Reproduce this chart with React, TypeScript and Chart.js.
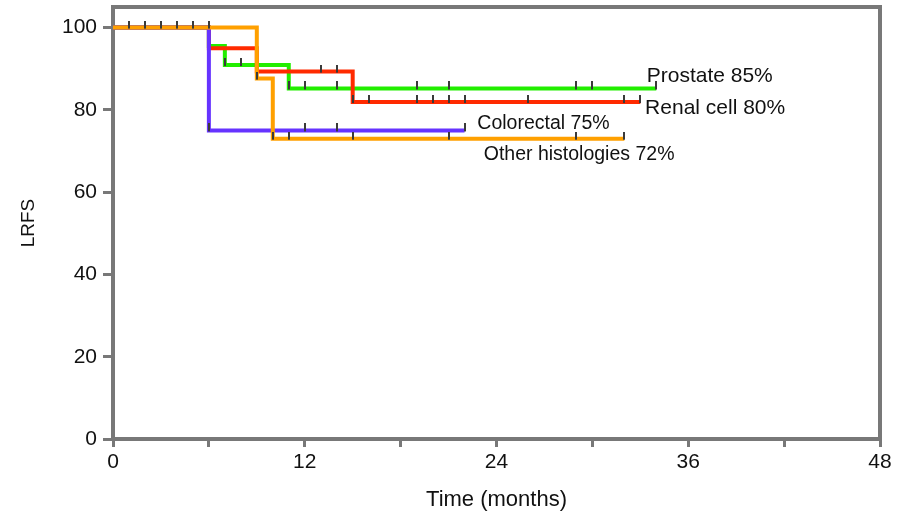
import React, { useEffect, useRef } from 'react';
import { Chart, registerables } from 'chart.js';

Chart.register(...registerables);

// ---- data ----
const seriesLabels = ['Prostate 85%', 'Renal cell 80%', 'Colorectal 75%', 'Other histologies 72%'];

const prostateTimes = [0, 6, 7, 11, 34];
const prostateSurv = [100, 95.5, 90.9, 85.2, 85.2];
const prostateCensored = [7, 8, 11, 12, 14, 19, 21, 29, 30, 34];

const renalTimes = [0, 6, 9, 15, 33];
const renalSurv = [100, 95, 89.3, 81.9, 81.9];
const renalCensored = [13, 14, 15, 16, 19, 20, 21, 22, 26, 32, 33];

const colorectalTimes = [0, 6, 22];
const colorectalSurv = [100, 75, 75];
const colorectalCensored = [6, 12, 14, 22];

const otherTimes = [0, 9, 10, 32];
const otherSurv = [100, 87.6, 73, 73];
const otherCensored = [1, 2, 3, 4, 5, 6, 9, 10, 11, 15, 21, 29, 32];

const xTickLabels = [0, 12, 24, 36, 48];
const yTickValues = [0, 20, 40, 60, 80, 100];

// ---- annotation placement & styles (not data) ----
const labelAnchorX = [33.4, 33.3, 22.8, 23.2];
const labelAnchorY = [88.3, 80.4, 76.7, 69.0];
const labelFontSizes = [21, 21, 19.5, 19.5];
const seriesColors = ['#22ee00', '#ff2a00', '#6633ff', '#ffa000'];
const FONT = "'Liberation Sans', Arial, sans-serif";

function stepPoints(times: number[], surv: number[]) {
  return times.map((t, i) => ({ x: t, y: surv[i] }));
}
function survAt(times: number[], surv: number[], t: number) {
  let v = surv[0];
  for (let i = 0; i < times.length; i++) if (times[i] <= t) v = surv[i];
  return v;
}
function censorPoints(times: number[], surv: number[], cens: number[]) {
  return cens.map((t) => ({ x: t, y: survAt(times, surv, t) }));
}

export default function App() {
  const ref = useRef<HTMLCanvasElement | null>(null);

  useEffect(() => {
    document.body.style.margin = '0';
    const canvas = ref.current;
    if (!canvas) return;

    const mark = document.createElement('canvas');
    mark.width = 2;
    mark.height = 14;
    const mc = mark.getContext('2d');
    if (mc) {
      mc.fillStyle = '#3a3a3a';
      mc.fillRect(0, 0, 2, 8);
    }

    const series = [
      { t: prostateTimes, s: prostateSurv, c: prostateCensored, order: 4 },
      { t: renalTimes, s: renalSurv, c: renalCensored, order: 3 },
      { t: colorectalTimes, s: colorectalSurv, c: colorectalCensored, order: 2 },
      { t: otherTimes, s: otherSurv, c: otherCensored, order: 1 },
    ];

    const datasets: any[] = [];
    series.forEach((sr, i) => {
      datasets.push({
        label: seriesLabels[i],
        data: stepPoints(sr.t, sr.s),
        borderColor: seriesColors[i],
        backgroundColor: seriesColors[i],
        borderWidth: 4,
        stepped: true,
        pointRadius: 0,
        fill: false,
        borderCapStyle: 'butt',
        borderJoinStyle: 'miter',
        order: sr.order,
      });
    });
    series.forEach((sr, i) => {
      datasets.push({
        label: seriesLabels[i] + ' censored',
        data: censorPoints(sr.t, sr.s, sr.c),
        showLine: false,
        pointStyle: mark,
        pointRadius: 7,
        pointBorderWidth: 0,
        borderColor: '#3a3a3a',
        backgroundColor: '#3a3a3a',
        order: 0,
      });
    });

    const framePlugin = {
      id: 'frame',
      beforeDatasetsDraw(chart: any) {
        const { ctx, chartArea } = chart;
        ctx.save();
        ctx.strokeStyle = '#787878';
        ctx.lineWidth = 4;
        ctx.strokeRect(chartArea.left, chartArea.top, chartArea.right - chartArea.left, chartArea.bottom - chartArea.top);
        ctx.restore();
      },
    };

    const labelPlugin = {
      id: 'curveLabels',
      afterDatasetsDraw(chart: any) {
        const { ctx, scales } = chart;
        ctx.save();
        ctx.fillStyle = '#111';
        ctx.textAlign = 'left';
        ctx.textBaseline = 'middle';
        seriesLabels.forEach((txt, i) => {
          ctx.font = `${labelFontSizes[i]}px ${FONT}`;
          ctx.fillText(txt, scales.x.getPixelForValue(labelAnchorX[i]), scales.y.getPixelForValue(labelAnchorY[i]));
        });
        ctx.restore();
      },
    };

    const chart = new Chart(canvas, {
      type: 'line',
      data: { datasets },
      options: {
        animation: false,
        responsive: false,
        maintainAspectRatio: false,
        events: [],
        layout: { padding: { left: 0, right: 21, top: 6, bottom: 0 } },
        plugins: { legend: { display: false }, tooltip: { enabled: false } },
        scales: {
          x: {
            type: 'linear',
            min: 0,
            max: 48,
            border: { display: false },
            grid: { display: true, drawOnChartArea: false, drawTicks: true, tickLength: 8, color: '#787878', lineWidth: 3 },
            ticks: {
              stepSize: 6,
              autoSkip: false,
              maxRotation: 0,
              padding: 3,
              color: '#111',
              font: { family: FONT, size: 21 },
              callback: (v: any) => (xTickLabels.includes(Number(v)) ? String(v) : ''),
            },
            title: { display: true, text: 'Time (months)', color: '#111', font: { family: FONT, size: 22 }, padding: { top: 0, bottom: 1 } },
            afterFit: (s: any) => {
              s.height = 75;
            },
          },
          y: {
            type: 'linear',
            min: 0,
            max: 105,
            border: { display: false },
            grid: { display: true, drawOnChartArea: false, drawTicks: true, tickLength: 10, color: '#787878', lineWidth: 3 },
            ticks: { padding: 6, color: '#111', font: { family: FONT, size: 21 } },
            afterBuildTicks: (s: any) => {
              s.ticks = yTickValues.map((v) => ({ value: v }));
            },
            title: { display: true, text: 'LRFS', color: '#111', font: { family: FONT, size: 19 }, padding: { top: 17, bottom: 0 } },
            afterFit: (s: any) => {
              s.width = 113;
              s.paddingTop = 0;
              s.paddingBottom = 0;
            },
          },
        },
      },
      plugins: [framePlugin, labelPlugin],
    } as any);

    return () => chart.destroy();
  }, []);

  return (
    <div style={{ width: 901, height: 514 }}>
      <canvas ref={ref} width={901} height={514} />
    </div>
  );
}
